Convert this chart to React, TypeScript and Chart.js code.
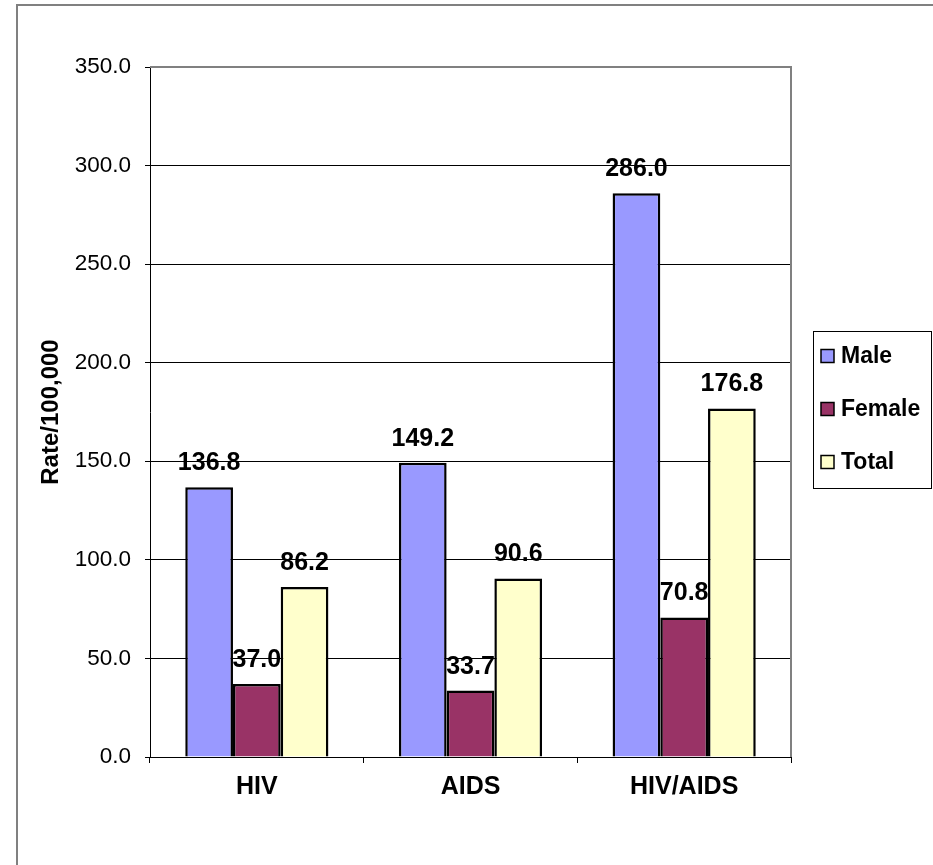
import React, { useEffect, useRef } from "react";
import { Chart, registerables } from "chart.js";

Chart.register(...registerables);

const categories = ["HIV", "AIDS", "HIV/AIDS"];
const maleValues = [136.8, 149.2, 286.0];
const femaleValues = [37.0, 33.7, 70.8];
const totalValues = [86.2, 90.6, 176.8];
const seriesNames = ["Male", "Female", "Total"];
const seriesColors = ["#9999FF", "#993366", "#FFFFCC"];
const yAxisTitle = "Rate/100,000";

const FONT = "'Liberation Sans', Arial, sans-serif";

const labelsPlugin = {
  id: "valueLabels",
  afterDatasetsDraw(chart: any) {
    const ctx = chart.ctx;
    ctx.save();
    ctx.font = `bold 25px ${FONT}`;
    ctx.fillStyle = "#000";
    ctx.textAlign = "center";
    ctx.textBaseline = "alphabetic";
    chart.data.datasets.forEach((ds: any, i: number) => {
      const meta = chart.getDatasetMeta(i);
      meta.data.forEach((el: any, j: number) => {
        ctx.fillText(Number(ds.data[j]).toFixed(1), el.x, el.y - 17);
      });
    });
    ctx.restore();
  },
};

const framePlugin = {
  id: "frame",
  beforeDraw(chart: any) {
    const ctx = chart.ctx;
    ctx.save();
    ctx.fillStyle = "#fff";
    ctx.fillRect(0, 0, chart.width, chart.height);
    ctx.strokeStyle = "#808080";
    ctx.lineWidth = 2;
    ctx.beginPath();
    ctx.moveTo(17, chart.height + 5);
    ctx.lineTo(17, 5);
    ctx.lineTo(chart.width + 5, 5);
    ctx.stroke();
    ctx.restore();
  },
  afterDraw(chart: any) {
    const ctx = chart.ctx;
    const a = chart.chartArea;
    ctx.save();
    ctx.strokeStyle = "#808080";
    ctx.lineWidth = 2;
    ctx.beginPath();
    ctx.moveTo(a.left, a.top);
    ctx.lineTo(a.right, a.top);
    ctx.lineTo(a.right, a.bottom);
    ctx.stroke();
    // legend
    ctx.strokeStyle = "#000";
    ctx.lineWidth = 1;
    ctx.strokeRect(813.5, 331.5, 118, 157);
    ctx.font = `bold 23px ${FONT}`;
    ctx.textAlign = "left";
    ctx.textBaseline = "middle";
    const ys = [356, 409, 462];
    chart.data.datasets.forEach((ds: any, i: number) => {
      const y = ys[i];
      ctx.fillStyle = ds.backgroundColor;
      ctx.fillRect(821, y - 6.5, 13, 13);
      ctx.lineWidth = 1.5;
      ctx.strokeStyle = "#000";
      ctx.strokeRect(821, y - 6.5, 13, 13);
      ctx.fillStyle = "#000";
      ctx.fillText(ds.label, 841, y + 1);
    });
    ctx.restore();
  },
};

export default function App() {
  const ref = useRef<HTMLCanvasElement | null>(null);
  useEffect(() => {
    if (!ref.current) return;
    const values = [maleValues, femaleValues, totalValues];
    const chart = new Chart(ref.current, {
      type: "bar",
      data: {
        labels: categories,
        datasets: seriesNames.map((name, i) => ({
          label: name,
          data: values[i],
          backgroundColor: seriesColors[i],
          borderColor: "#000",
          borderWidth: 2.5,
          barPercentage: 1,
          categoryPercentage: 0.67,
        })),
      },
      options: {
        responsive: false,
        animation: false,
        layout: { padding: { left: 20, top: 67, right: 142, bottom: 0 } },
        plugins: {
          legend: { display: false },
          tooltip: { enabled: false },
          title: { display: false },
        },
        scales: {
          x: {
            afterFit(scale: any) {
              scale.height = 108;
            },
            grid: {
              drawOnChartArea: false,
              drawTicks: true,
              tickLength: 6,
              color: "#000",
              offset: true,
            },
            border: { color: "#000", width: 1 },
            ticks: {
              color: "#000",
              padding: 9,
              font: { family: FONT, size: 25, weight: "bold" },
            },
          },
          y: {
            min: 0,
            max: 350,
            afterFit(scale: any) {
              scale.width = 130;
            },
            grid: { color: "#000", lineWidth: 1, tickLength: 5, drawTicks: true },
            border: { color: "#000", width: 1 },
            ticks: {
              stepSize: 50,
              color: "#000",
              padding: 14,
              font: { family: FONT, size: 22.5 },
              callback: (v: any) => Number(v).toFixed(1),
            },
            title: {
              display: true,
              text: yAxisTitle,
              color: "#000",
              padding: { top: 17, bottom: 0 },
              font: { family: FONT, size: 24, weight: "bold" },
            },
          },
        },
      } as any,
      plugins: [framePlugin, labelsPlugin],
    });
    return () => chart.destroy();
  }, []);
  return (
    <div style={{ position: "fixed", left: 0, top: 0, width: 933, height: 865 }}>
      <canvas ref={ref} width={933} height={865} style={{ width: 933, height: 865, display: "block" }} />
    </div>
  );
}
